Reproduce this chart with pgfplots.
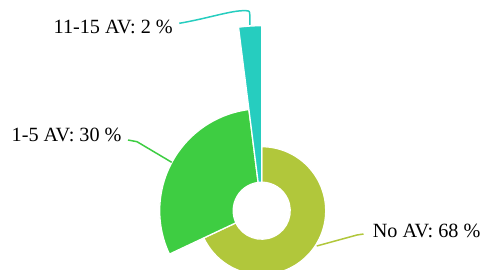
\documentclass[border=0pt]{standalone}
\usepackage{pgfplots}
\usepackage{pgfplotstable}
\pgfplotsset{compat=1.18}
\usepackage{fontspec}
\setmainfont{Liberation Serif}
\definecolor{cNo}{HTML}{B1C73B}
\definecolor{cOne}{HTML}{3ECD42}
\definecolor{cEle}{HTML}{26CDBF}
\pgfplotstableread[col sep=comma]{
label,pct,radius,color
No AV,68,64,cNo
1-5 AV,30,102,cOne
11-15 AV,2,185,cEle
}\slices
\begin{document}
\begin{tikzpicture}
\useasboundingbox (0,0) rectangle (482pt,270pt);
\begin{axis}[x=1pt,y=1pt,xmin=0,xmax=482,ymin=0,ymax=270,
  hide axis, clip=true, anchor=origin, at={(0,0)}]
\addplot[draw=none] coordinates {(0,0) (482,270)};
\pgfplotsextra{
  \def\cx{261.7}\def\cy{59.3}\def\ri{28.5}
  \pgfmathsetmacro{\acur}{90}
  \pgfplotstablegetrowsof{\slices}
  \pgfmathtruncatemacro{\nrows}{\pgfplotsretval-1}
  \foreach \i in {0,...,\nrows}{
    \pgfplotstablegetelem{\i}{pct}\of{\slices}\let\p\pgfplotsretval
    \pgfplotstablegetelem{\i}{radius}\of{\slices}\let\R\pgfplotsretval
    \pgfplotstablegetelem{\i}{color}\of{\slices}\let\C\pgfplotsretval
    \pgfmathsetmacro{\aone}{\acur}
    \pgfmathsetmacro{\atwo}{\acur-3.6*\p}
    \pgfmathsetmacro{\dr}{\ri-\R}
    \path[fill=\C, draw=white, line width=1.3pt, line join=miter]
      (axis cs:\cx,\cy) ++(\aone:\R pt) arc[start angle=\aone, end angle=\atwo, radius=\R pt]
      -- ++(\atwo:\dr pt) arc[start angle=\atwo, end angle=\aone, radius=\ri pt] -- cycle;
    \xdef\acur{\atwo}
  }
}
\draw[cEle, line width=1.5pt] (axis cs:179.3,246.7) .. controls (axis cs:210,252) and (axis cs:232,260) .. (axis cs:246,259.3) .. controls (axis cs:249.5,259) .. (axis cs:249.8,255) -- (axis cs:249.8,245);
\draw[cOne, line width=1.5pt] (axis cs:128,130) -- (axis cs:137,128.3) -- (axis cs:171.7,107.7);
\draw[cNo, line width=1.5pt] (axis cs:363.5,36) -- (axis cs:357,35) -- (axis cs:316.7,24);
\node[anchor=base east, inner sep=0, font=\fontsize{20.2}{23}\selectfont] at (axis cs:173,236.7) {11-15 AV: 2 \%};
\node[anchor=base east, inner sep=0, font=\fontsize{20.2}{23}\selectfont] at (axis cs:121.7,128.3) {1-5 AV: 30 \%};
\node[anchor=base west, inner sep=0, font=\fontsize{20.2}{23}\selectfont] at (axis cs:372.7,32.7) {No AV: 68 \%};
\end{axis}
\end{tikzpicture}
\end{document}
